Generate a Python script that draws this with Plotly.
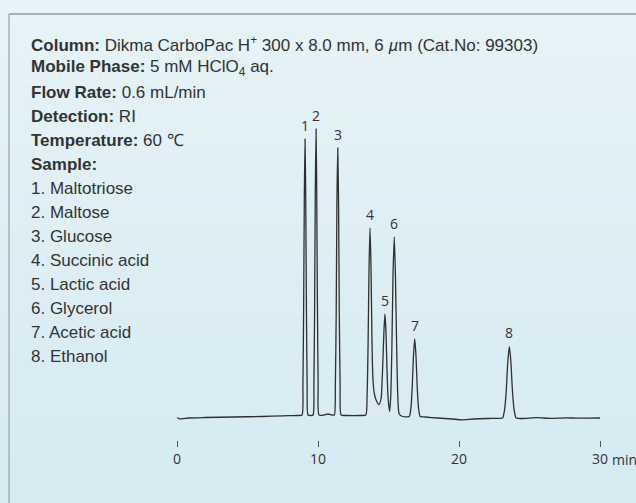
import plotly.graph_objects as go

# Chromatogram trace: retention time (min) and detector response (a.u.)
time_min = [
    0.0, 0.15, 0.35, 0.8, 2.0, 4.0, 6.0, 7.5, 8.6,
    8.87, 8.93, 8.98, 9.03, 9.08, 9.13, 9.18, 9.23, 9.29,
    9.47,
    9.65, 9.71, 9.76, 9.81, 9.86, 9.91, 9.96, 10.01, 10.07,
    10.4, 10.7, 11.0,
    11.16, 11.23, 11.29, 11.34, 11.40, 11.46, 11.51, 11.57, 11.64,
    12.0, 13.0,
    13.39, 13.48, 13.55, 13.62, 13.69, 13.76, 13.83, 13.90, 14.0, 14.15, 14.33,
    14.48, 14.55, 14.61, 14.68, 14.75, 14.82, 14.89, 14.97, 15.08,
    15.16, 15.24, 15.32, 15.41, 15.49, 15.58, 15.66, 15.76, 16.0,
    16.47, 16.59, 16.68, 16.77, 16.86, 16.95, 17.04, 17.13, 17.25,
    17.6, 18.5, 19.5, 20.2, 21.0, 22.0, 22.8,
    23.09, 23.23, 23.35, 23.46, 23.57, 23.68, 23.79, 23.91, 24.05,
    24.5, 25.5, 26.5, 27.5, 28.5, 30.0,
]
response = [
    0.4, -0.6, -0.8, 0.0, 0.5, 1.0, 1.5, 2.2, 2.5,
    3, 33, 107, 220, 279, 220, 107, 33, 3,
    2.5,
    3, 34, 110, 227, 289, 227, 110, 34, 3,
    3, 4, 3,
    3, 32, 103, 212, 270, 212, 103, 32, 3,
    2.5, 2.5,
    3, 22, 72, 150, 190, 150, 75, 38, 24, 17, 13.5,
    20, 38, 60, 88, 104, 86, 50, 20, 6.5,
    22, 70, 143, 181, 143, 70, 22, 4, 1.5,
    1.5, 10, 30, 62, 79, 62, 30, 10, 1.5,
    1, 0, -1, -1.8, -1, -0.5, -0.3,
    0, 8, 27, 56, 71.3, 56, 27, 8, 0,
    -0.5, 0.3, -0.3, 0.2, -0.2, 0,
]

# Peak labels at the apex of each peak
peak_ids = ["1", "2", "3", "4", "5", "6", "7", "8"]
peak_time = [9.08, 9.86, 11.40, 13.69, 14.75, 15.41, 16.86, 23.57]
peak_height = [279, 289, 270, 190, 104, 181, 79, 71.3]

# Method conditions and sample list
conditions = [
    ("Column:", "Dikma CarboPac H<sup>+</sup> 300 x 8.0 mm, 6 <i>µ</i>m (Cat.No: 99303)"),
    ("Mobile Phase:", "5 mM HClO<sub>4</sub> aq."),
    ("Flow Rate:", "0.6 mL/min"),
    ("Detection:", "RI"),
    ("Temperature:", "60 ℃"),
    ("Sample:", ""),
]
compounds = [
    "1. Maltotriose", "2. Maltose", "3. Glucose", "4. Succinic acid",
    "5. Lactic acid", "6. Glycerol", "7. Acetic acid", "8. Ethanol",
]

tick_vals = [0, 10, 20, 30]
tick_text = ["0", "10", "20", "30"]

W, H = 636, 503
ML, MR, MT, MB = 177, 36, 100, 63
PW, PH = W - ML - MR, H - MT - MB


def px(x):
    return (x - ML) / PW


def py(y):
    return (H - MB - y) / PH


TEXT = "#333333"
SANS = "Liberation Sans, Arial, sans-serif"
ROUND = "Open Sans, sans-serif"
INFO_SIZE = 17

fig = go.Figure()
fig.add_trace(go.Scatter(
    x=time_min, y=response, mode="lines",
    line=dict(color="#2f2f2f", width=1.3, shape="spline", smoothing=0.6),
    hoverinfo="skip", showlegend=False,
))

shapes = []
# soft vertical background gradient
top_rgb = (0xe6, 0xf3, 0xf7)
bot_rgb = (0xd5, 0xea, 0xf1)
n_band = 24
for i in range(n_band):
    f = i / (n_band - 1)
    c = tuple(round(a + (b - a) * f) for a, b in zip(top_rgb, bot_rgb))
    y0 = i * H / n_band
    y1 = (i + 1) * H / n_band + 1
    shapes.append(dict(
        type="rect", xref="paper", yref="paper",
        x0=px(0), x1=px(W), y0=py(y1), y1=py(y0),
        fillcolor="rgb(%d,%d,%d)" % c, line=dict(width=0), layer="below",
    ))
# frame lines
shapes.append(dict(type="line", xref="paper", yref="paper",
                   x0=px(9), x1=px(W + 2), y0=py(14), y1=py(14),
                   line=dict(color="#a9afb2", width=2)))
shapes.append(dict(type="line", xref="paper", yref="paper",
                   x0=px(9), x1=px(9), y0=py(14), y1=py(H + 2),
                   line=dict(color="#a9afb2", width=1.5)))

annotations = []
for pid, t, h in zip(peak_ids, peak_time, peak_height):
    annotations.append(dict(
        x=t, y=h, xref="x", yref="y", text=pid, showarrow=False,
        yshift=14, font=dict(family=ROUND, size=14, color=TEXT),
    ))

line_y = 44
for label, value in conditions:
    txt = "<b>%s</b> %s" % (label, value) if value else "<b>%s</b>" % label
    annotations.append(dict(
        x=px(29), y=py(line_y), xref="paper", yref="paper", text=txt,
        showarrow=False, xanchor="left", yanchor="middle",
        font=dict(family=SANS, size=INFO_SIZE, color=TEXT),
    ))
    line_y += 24
for name in compounds:
    annotations.append(dict(
        x=px(29), y=py(line_y), xref="paper", yref="paper", text=name,
        showarrow=False, xanchor="left", yanchor="middle",
        font=dict(family=SANS, size=INFO_SIZE, color=TEXT),
    ))
    line_y += 24

annotations.append(dict(
    x=30, y=py(459), xref="x", yref="paper", text="min", showarrow=False,
    xanchor="left", yanchor="middle", xshift=10,
    font=dict(family=ROUND, size=14, color=TEXT),
))

fig.update_layout(
    width=W, height=H,
    margin=dict(l=ML, r=MR, t=MT, b=MB, pad=0),
    paper_bgcolor="#ddeef4", plot_bgcolor="rgba(0,0,0,0)",
    shapes=shapes, annotations=annotations,
    xaxis=dict(
        range=[0, 30], tickvals=tick_vals, ticktext=tick_text,
        ticks="outside", ticklen=6, tickwidth=1, tickcolor="#555555",
        showline=False, showgrid=False, zeroline=False,
        tickfont=dict(family=ROUND, size=14, color=TEXT),
    ),
    yaxis=dict(range=[-22, 318], visible=False, showgrid=False, zeroline=False),
)

fig.write_html("out.html")
